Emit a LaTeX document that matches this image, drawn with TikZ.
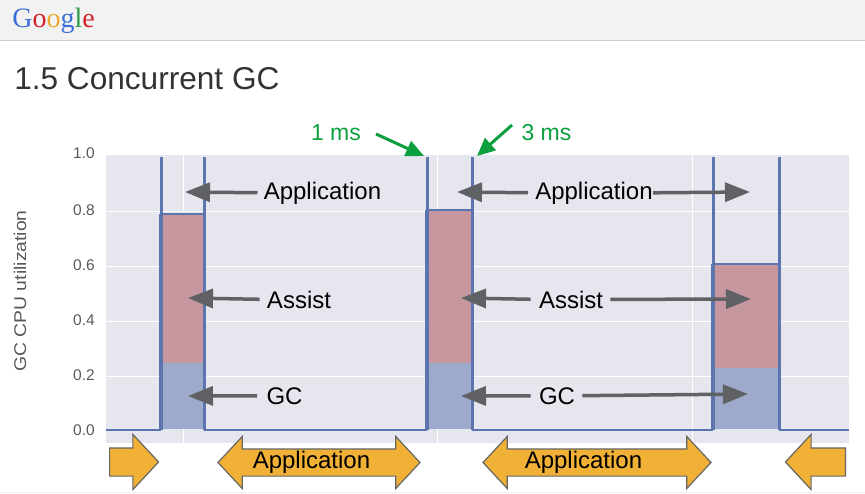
\documentclass[tikz,border=0pt]{standalone}
\usepackage{fontspec}
\setmainfont{Liberation Sans}
\newfontfamily\logofont{Liberation Serif}
\newfontfamily\axisfont[FakeStretch=1.14]{Liberation Sans}
\usetikzlibrary{arrows.meta,positioning,shapes.arrows}

\definecolor{panelgray}{HTML}{E6E7EE}
\definecolor{linkblue}{HTML}{5C75AE}
\definecolor{assistred}{HTML}{C6979E}
\definecolor{gcblue}{HTML}{9EAACB}
\definecolor{pointgray}{HTML}{5F6164}
\definecolor{timegreen}{HTML}{0C9F3E}
\definecolor{spanorange}{HTML}{F0B136}
\definecolor{logoblue}{HTML}{3B6FD8}
\definecolor{logored}{HTML}{D2232A}
\definecolor{logoyellow}{HTML}{EBAB2E}
\definecolor{logogreen}{HTML}{2E9B46}

\begin{document}
\begin{tikzpicture}[x=1pt,y=-1pt,semithick]
	\tikzstyle{every node}=[inner sep=0pt,text=black]
	\tikzstyle{callout}=[anchor=base,font=\fontsize{24}{26}\selectfont]
	\tikzstyle{timelabel}=[anchor=base,text=timegreen,font=\fontsize{23}{26}\selectfont]
	\tikzstyle{tick}=[font=\fontsize{15.5}{18}\selectfont,text=black!65,anchor=east]
	\tikzstyle{pointer}=[color=pointgray,line width=3.5pt,-{Triangle[length=25pt,width=19pt]}]
	\tikzstyle{timer}=[color=timegreen,line width=3pt,-{Triangle[length=18pt,width=16pt]}]
	\tikzstyle{spanone}=[draw=black!60,fill=spanorange,line width=1.2pt,single arrow,inner ysep=13.5pt,
		minimum width=54pt,single arrow head extend=13.5pt,single arrow tip angle=94]
	\tikzstyle{spantwo}=[draw=black!60,fill=spanorange,line width=1.2pt,double arrow,inner ysep=13pt,
		minimum width=52pt,double arrow head extend=12.5pt,double arrow tip angle=94]

	\useasboundingbox (0,0) rectangle (865,493);

	% page header
	\fill[black!5] (0,0) rectangle (865,40);
	\draw[black!20,line width=1pt] (0,40.5) -- (865,40.5);
	\draw[black!7,line width=1pt] (0,492.5) -- (865,492.5);
	\node (logo) [anchor=base west,font=\logofont\fontsize{28}{30}\selectfont] at (12,27)
		{\textcolor{logoblue}{G}\textcolor{logored}{o}\textcolor{logoyellow}{o}\textcolor{logoblue}{g}\textcolor{logogreen}{l}\textcolor{logored}{e}};
	\node (title) [anchor=base west,text=black!80,font=\fontsize{31.6}{36}\selectfont] at (14,89) {1.5 Concurrent GC};

	% chart panel
	\fill[panelgray] (106,155) rectangle (849,443);
	\foreach \y in {211,266,321,376}
		\draw[white,line width=1pt] (106,\y) -- (849,\y);
	\foreach \x in {183,437,692}
		\draw[white,line width=1pt] (\x,155) -- (\x,443);

	% tick labels
	\foreach \val/\y in {1.0/153,0.8/210,0.6/265,0.4/320,0.2/375,0.0/430}
		\node (tick\val) [tick] at (95,\y) {\val};
	\node (ytitle) [rotate=90,text=black!65,font=\axisfont\fontsize{17}{18}\selectfont] at (20,291) {GC CPU utilization};

	% utilization bars
	\foreach \xa/\xb/\ytop/\ymid in {161/204/214/363,427/472/210/363,713/779/264/368} {
		\fill[assistred] (\xa,\ytop) rectangle (\xb,\ymid);
		\fill[gcblue] (\xa,\ymid) rectangle (\xb,429);
		\draw[linkblue,line width=2pt] (\xa,\ytop) -- (\xb,\ytop);
		\draw[linkblue,line width=4.5pt] (\xa,\ytop) -- (\xa,429);
		\draw[linkblue,line width=3pt] (\xa,157) -- (\xa,429.5);
		\draw[linkblue,line width=3pt] (\xb,157) -- (\xb,429.5);
	}
	\draw[linkblue,line width=2pt] (106,429.5) -- (161,429.5) (204,429.5) -- (427,429.5)
		(472,429.5) -- (713,429.5) (779,429.5) -- (849,429.5);

	% labels over the chart
	\node (applA) [callout] at (322.5,199) {Application};
	\node (assistA) [callout] at (299,308) {Assist};
	\node (gcA) [callout] at (284.5,404) {GC};
	\node (applB) [callout] at (594,199) {Application};
	\node (assistB) [callout] at (571,308) {Assist};
	\node (gcB) [callout] at (557,404) {GC};
	\node (msA) [timelabel] at (336,140) {1 ms};
	\node (msB) [timelabel] at (546.5,140) {3 ms};

	\coordinate (applAtip) at (185,192);
	\coordinate (assistAtip) at (188,298);
	\coordinate (gcAtip) at (188,396);
	\coordinate (applBtip) at (457,192);
	\coordinate (assistBtip) at (461,298);
	\coordinate (gcBtip) at (461,396);
	\coordinate (applCtip) at (750,192);
	\coordinate (assistCtip) at (751,299);
	\coordinate (gcCtip) at (748,394);
	\coordinate (msAout) at (376,134);
	\coordinate (msAtip) at (424,156);
	\coordinate (msBout) at (512,125);
	\coordinate (msBtip) at (477,156);

	\path[pointer] (applA.west) edge[shorten <=6pt] (applAtip)
		(assistA.west) edge[shorten <=7pt] (assistAtip)
		(gcA.west) edge[shorten <=9pt] (gcAtip)
		(applB.west) edge[shorten <=7pt] (applBtip)
		(assistB.west) edge[shorten <=8pt] (assistBtip)
		(gcB.west) edge[shorten <=8pt] (gcBtip)
		(applB.east) edge (applCtip)
		(assistB.east) edge[shorten <=7pt] (assistCtip)
		(gcB.east) edge[shorten <=7pt] (gcCtip);
	\path[timer] (msAout) edge (msAtip)
		(msBout) edge (msBtip);

	% spans below the chart
	\node (spanA) [spanone,minimum height=49pt,anchor=tail] at (109,462) {};
	\node (spanB) [spantwo,minimum height=202pt] at (319,462.5) {};
	\node (spanC) [spantwo,minimum height=228pt] at (597,462.5) {};
	\node (spanD) [spanone,minimum height=60pt,shape border rotate=180,anchor=tail] at (846,462) {};
	\node (spanBtext) [callout] at (311.5,468) {Application};
	\node (spanCtext) [callout] at (583.5,468) {Application};
\end{tikzpicture}
\end{document}
